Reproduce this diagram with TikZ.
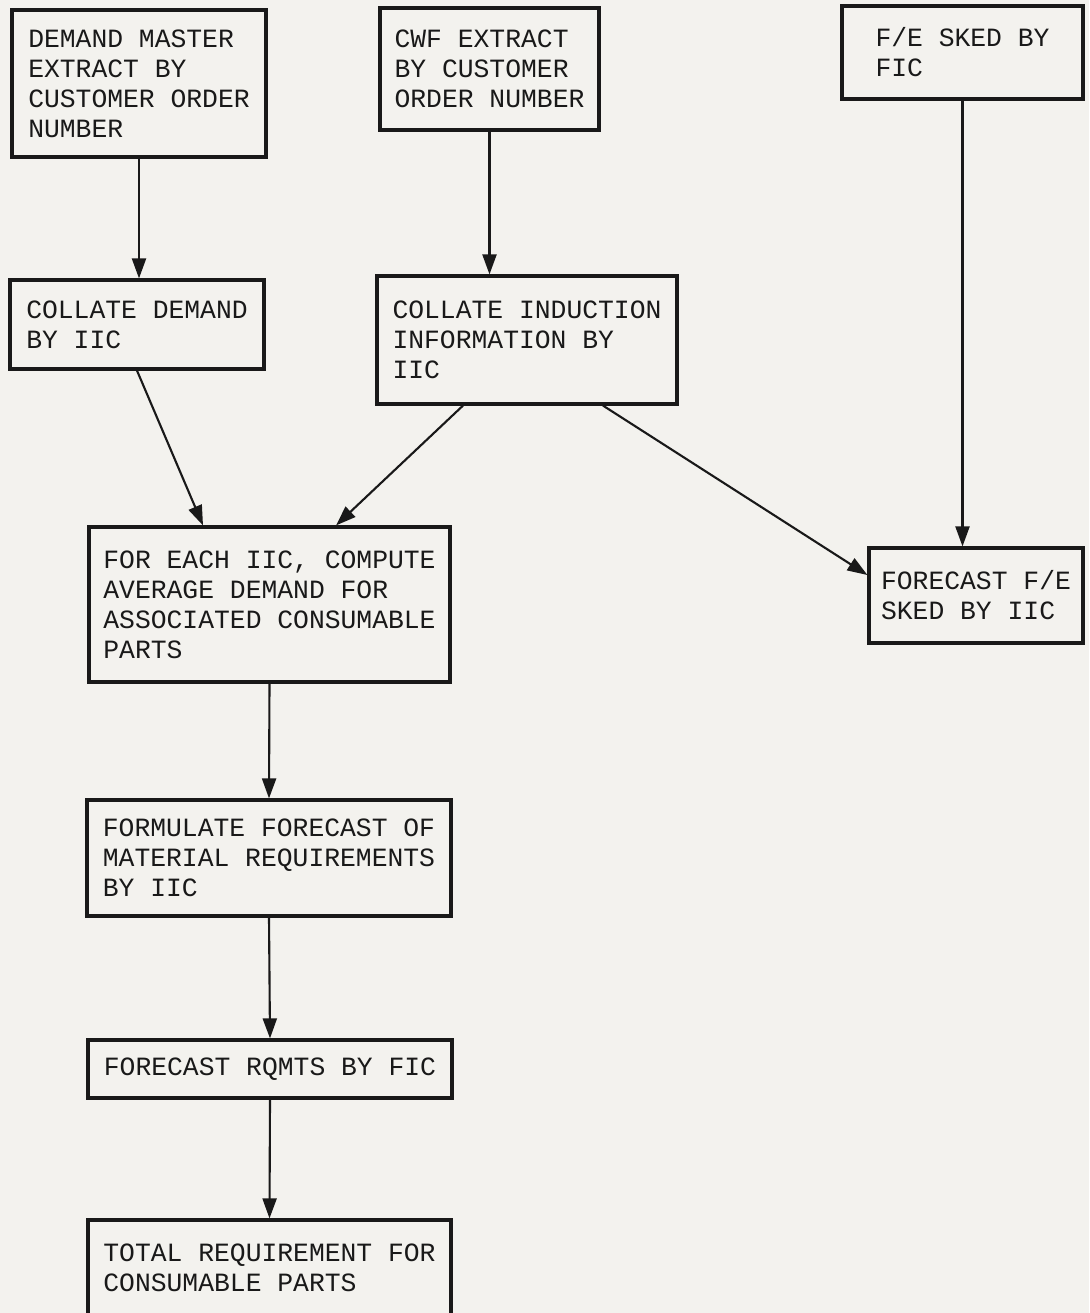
\documentclass[tikz,border=0pt]{standalone}
\usepackage{fontspec}
\setmonofont{Liberation Mono}
\usepackage{xcolor}
\usepackage{tikz}
\usetikzlibrary{arrows.meta, positioning}

\definecolor{paper}{RGB}{243,242,238}
\definecolor{ink}{RGB}{25,25,25}

\begin{document}
\begin{tikzpicture}[auto, >={Triangle[length=0.4cm, width=0.28cm]},
    box/.style={draw=ink, line width=1.8pt, align=left, inner sep=2pt,
        font=\ttfamily\fontsize{15}{17}\selectfont, text=ink},
    flow/.style={->, draw=ink, line width=1.2pt}]
        \useasboundingbox[fill=paper] (0,0) rectangle (21.78,-26.26);

        % Nodes
        \node[box, minimum width=5.08cm, minimum height=2.94cm] (master) at (2.78,-1.67)
            {DEMAND MASTER\\EXTRACT BY\\CUSTOMER ORDER\\NUMBER};
        \node[box, minimum width=4.38cm, minimum height=2.44cm] (cwf) at (9.79,-1.38)
            {CWF EXTRACT\\BY CUSTOMER\\ORDER NUMBER};
        \node[box, minimum width=4.82cm, minimum height=1.86cm] (fesked) at (19.25,-1.05)
            {F/E SKED BY\\FIC};
        \node[box, minimum width=5.08cm, minimum height=1.78cm] (colldemand) at (2.74,-6.49)
            {COLLATE DEMAND\\BY IIC};
        \node[box, minimum width=6.00cm, minimum height=2.56cm] (collinduct) at (10.54,-6.80)
            {COLLATE INDUCTION\\INFORMATION BY\\IIC};
        \node[box, minimum width=7.22cm, minimum height=3.10cm] (average) at (5.39,-12.09)
            {FOR EACH IIC, COMPUTE\\AVERAGE DEMAND FOR\\ASSOCIATED CONSUMABLE\\PARTS};
        \node[box, minimum width=4.28cm, minimum height=1.90cm] (feforecast) at (19.52,-11.91)
            {FORECAST F/E\\SKED BY IIC};
        \node[box, minimum width=7.28cm, minimum height=2.32cm] (formulate) at (5.38,-17.16)
            {FORMULATE FORECAST OF\\MATERIAL REQUIREMENTS\\BY IIC};
        \node[box, minimum width=7.28cm, minimum height=1.16cm] (rqmts) at (5.40,-21.38)
            {FORECAST RQMTS BY FIC};
        \node[box, minimum width=7.26cm, minimum height=1.90cm] (total) at (5.39,-25.35)
            {TOTAL REQUIREMENT FOR\\CONSUMABLE PARTS};

        % Bovenste rij naar collatie
        \draw[flow] (master.south) -- (master.south |- colldemand.north);
        \draw[flow] (cwf.south) -- (cwf.south |- collinduct.north);
        \draw[flow] (fesked.south) -- (fesked.south |- feforecast.north);

        % Collatie naar gemiddelde vraag
        \draw[flow] (colldemand.south) -- ([xshift=-1.33cm]average.north);
        \draw[flow] ([xshift=-1.28cm]collinduct.south) -- ([xshift=1.33cm]average.north);

        % Inductie naar F/E-prognose
        \draw[flow] ([xshift=1.52cm]collinduct.south) -- ([yshift=0.41cm]feforecast.west);

        % Verticale keten
        \draw[flow] (average.south) -- (formulate.north);
        \draw[flow] (formulate.south) -- (rqmts.north);
        \draw[flow] (rqmts.south) -- (total.north);
    \end{tikzpicture}
\end{document}
